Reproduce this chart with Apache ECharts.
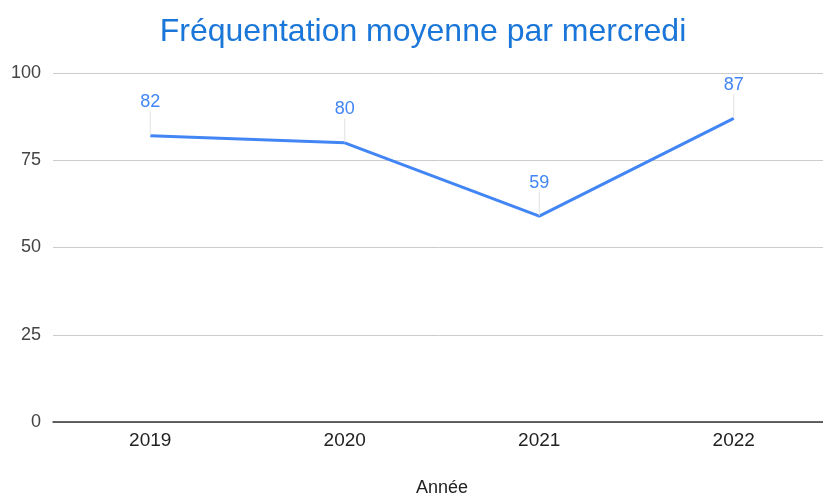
<!DOCTYPE html>
<html><head><meta charset="utf-8">
<script src="https://cdn.jsdelivr.net/npm/echarts@6/dist/echarts.min.js"></script>
<style>html,body{margin:0;padding:0;background:#fff}#c{width:823px;height:497px}</style>
</head><body><div id="c"></div>
<script>
const categories = ['2019', '2020', '2021', '2022'];
const values = [82, 80, 59, 87];
const F = 'Arial, "Liberation Sans", sans-serif';
const chart = echarts.init(document.getElementById('c'));
chart.setOption({
  animation: false,
  title: {
    text: 'Fréquentation moyenne par mercredi',
    left: 418, top: 11, textAlign: 'center',
    textStyle: {color: '#1a76d8', fontSize: 32, fontWeight: 'normal', fontFamily: F}
  },
  grid: {left: 53, top: 73, width: 778, height: 349, outerBoundsMode: 'none', containLabel: false},
  xAxis: {
    type: 'category', data: categories, boundaryGap: true,
    name: 'Année', nameLocation: 'middle', nameGap: 57,
    nameTextStyle: {color: '#222', fontSize: 18, fontFamily: F},
    axisLine: {lineStyle: {color: '#333', width: 1.5}},
    axisTick: {show: false},
    axisLabel: {color: '#222', fontSize: 19, margin: 9, fontFamily: F}
  },
  yAxis: {
    type: 'value', min: 0, max: 100, interval: 25,
    axisLine: {show: false}, axisTick: {show: false},
    axisLabel: {color: '#444', fontSize: 18, margin: 12, fontFamily: F},
    splitLine: {lineStyle: {color: '#ccc', width: 1}}
  },
  series: [{
    type: 'line', data: values,
    symbol: 'circle', symbolSize: 1, showSymbol: true,
    lineStyle: {color: '#4285f4', width: 3},
    itemStyle: {color: 'rgba(0,0,0,0)'},
    label: {show: true, position: 'top', distance: 4, color: '#4285f4', fontSize: 18, fontFamily: F},
    labelLayout: {dy: -20},
    labelLine: {show: true, lineStyle: {color: '#e0e0e0', width: 1}}
  }]
});
</script></body></html>
